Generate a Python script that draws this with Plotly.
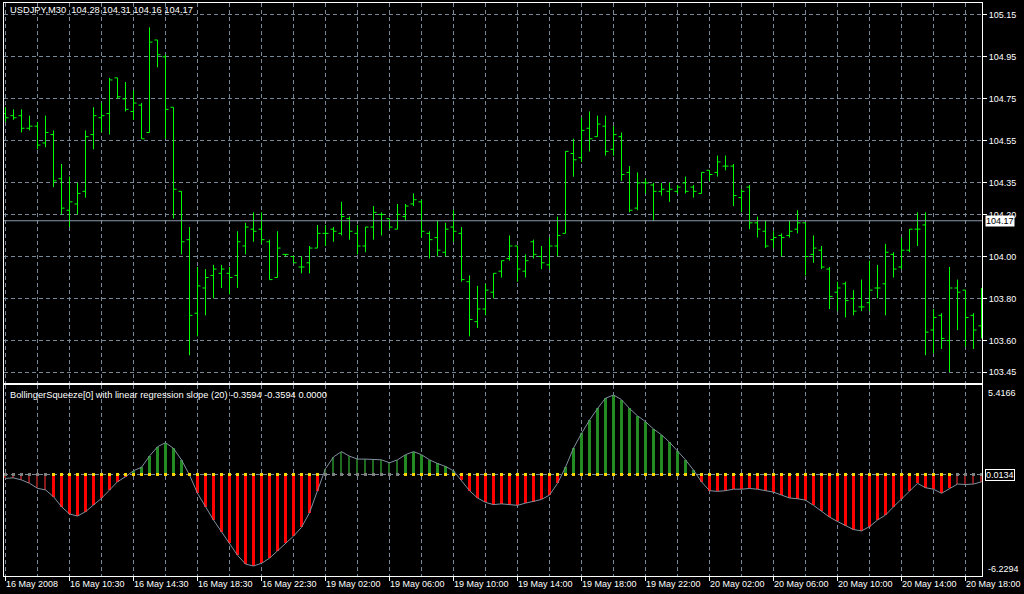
import plotly.graph_objects as go

# ---------------- data ----------------
opens = [104.68,104.67,104.67,104.61,104.62,104.54,104.58,104.37,104.22,104.25,
         104.31,104.58,104.66,104.68,104.85,104.75,104.69,104.72,104.59,105.03,
         104.95,104.71,104.31,104.08,103.73,103.85,103.91,103.92,103.92,103.91,
         104.05,104.13,104.13,104.07,103.90,104.01,104.00,103.95,103.97,104.04,
         104.11,104.13,104.11,104.18,104.11,104.05,104.14,104.20,104.18,104.13,
         104.19,104.25,104.26,104.11,104.09,104.02,104.14,104.11,103.88,103.69,
         103.75,103.83,103.93,103.99,104.05,103.93,104.07,104.00,103.96,104.05,
         104.11,104.49,104.47,104.61,104.57,104.62,104.51,104.57,104.40,104.23,
         104.35,104.34,104.31,104.31,104.31,104.35,104.33,104.30,104.41,104.40,
         104.43,104.43,104.28,104.33,104.16,104.12,104.08,104.10,104.10,104.13,
         104.16,104.01,104.03,103.94,103.83,103.87,103.80,103.76,103.78,103.85,
         103.87,104.01,103.95,104.03,104.13,104.15,103.65,103.72,103.60,103.85,
         103.84,103.72,103.67]
highs = [104.71,104.70,104.70,104.67,104.64,104.67,104.60,104.44,104.38,104.35,
         104.60,104.71,104.73,104.85,104.85,104.83,104.79,104.73,105.09,105.03,
         104.96,104.71,104.31,104.14,103.95,103.94,103.96,103.96,103.95,104.12,
         104.16,104.21,104.21,104.08,104.12,104.01,104.00,104.00,104.05,104.15,
         104.15,104.14,104.26,104.19,104.15,104.14,104.24,104.21,104.18,104.25,
         104.25,104.30,104.27,104.12,104.17,104.16,104.22,104.14,103.91,103.86,
         103.87,103.92,103.98,104.10,104.05,104.01,104.08,104.05,104.09,104.19,
         104.50,104.56,104.66,104.69,104.67,104.67,104.62,104.59,104.43,104.40,
         104.37,104.35,104.35,104.35,104.34,104.38,104.34,104.40,104.41,104.48,
         104.48,104.44,104.32,104.34,104.19,104.17,104.12,104.11,104.17,104.22,
         104.16,104.10,104.05,103.95,103.88,103.88,103.84,103.89,103.98,103.96,
         104.06,104.02,104.09,104.13,104.21,104.21,103.75,103.73,103.95,103.89,
         103.84,103.73,103.85]
lows = [104.64,104.65,104.59,104.60,104.51,104.52,104.33,104.20,104.14,104.20,
        104.28,104.51,104.59,104.58,104.75,104.69,104.65,104.56,104.59,104.90,
        104.56,104.18,104.01,103.53,103.62,103.72,103.80,103.85,103.82,103.85,
        104.01,104.07,104.06,103.89,103.90,104.00,103.97,103.92,103.92,104.04,
        104.05,104.07,104.10,104.08,104.01,104.02,104.08,104.10,104.13,104.13,
        104.17,104.24,104.09,103.99,104.00,104.00,104.07,103.88,103.62,103.66,
        103.72,103.80,103.90,103.98,103.88,103.90,103.99,103.94,103.94,104.00,
        104.11,104.38,104.45,104.50,104.57,104.48,104.48,104.36,104.21,104.22,
        104.30,104.17,104.29,104.26,104.30,104.30,104.28,104.30,104.36,104.38,
        104.41,104.24,104.21,104.13,104.09,104.04,104.04,104.00,104.09,104.11,
        103.91,103.97,103.94,103.75,103.74,103.71,103.72,103.74,103.74,103.80,
        103.72,103.90,103.94,104.02,104.05,103.53,103.54,103.56,103.45,103.65,
        103.57,103.56,103.61]
closes = [104.66,104.66,104.61,104.62,104.53,104.59,104.36,104.23,104.26,104.30,
          104.57,104.67,104.67,104.84,104.76,104.70,104.73,104.56,105.02,104.96,
          104.70,104.32,104.07,103.72,103.86,103.90,103.94,103.94,103.90,104.07,
          104.14,104.12,104.08,103.89,104.04,104.01,103.97,103.95,104.04,104.11,
          104.11,104.12,104.19,104.12,104.05,104.14,104.21,104.20,104.14,104.20,
          104.24,104.27,104.12,104.08,104.03,104.13,104.12,103.89,103.70,103.75,
          103.84,103.92,103.98,104.05,103.94,103.98,104.01,103.97,104.05,104.10,
          104.50,104.46,104.60,104.56,104.63,104.50,104.58,104.39,104.22,104.35,
          104.35,104.31,104.32,104.32,104.33,104.31,104.31,104.40,104.39,104.45,
          104.43,104.29,104.31,104.16,104.13,104.05,104.09,104.09,104.12,104.16,
          104.00,104.04,103.95,103.81,103.85,103.79,103.74,103.76,103.84,103.85,
          104.02,103.94,104.03,104.13,104.13,103.64,103.71,103.61,103.85,103.83,
          103.71,103.65,103.68]

slope = [-0.26,-0.23,-0.37,-0.60,-0.94,-1.05,-1.51,-2.19,-2.69,-2.83,
         -2.53,-2.08,-1.62,-1.06,-0.49,-0.15,0.26,0.49,1.26,1.89,
         2.17,1.78,0.99,-0.03,-1.28,-2.19,-3.10,-3.90,-4.70,-5.50,
         -6.10,-6.23,-6.05,-5.70,-5.20,-4.70,-4.20,-3.60,-2.60,-1.10,
         0.40,1.20,1.56,1.25,1.05,1.05,1.05,1.00,0.80,1.00,
         1.35,1.56,1.35,1.00,0.75,0.55,0.25,-0.40,-1.10,-1.60,
         -1.90,-2.05,-2.00,-2.05,-2.10,-1.95,-1.85,-1.70,-1.40,-0.60,
         0.50,1.80,2.80,3.70,4.50,5.20,5.4166,5.10,4.50,4.00,
         3.60,3.10,2.70,2.20,1.60,1.00,0.30,-0.50,-1.10,-1.15,
         -1.10,-1.00,-1.00,-0.95,-1.00,-1.10,-1.20,-1.40,-1.60,-1.65,
         -1.75,-2.10,-2.50,-2.90,-3.20,-3.50,-3.75,-3.84,-3.55,-3.10,
         -2.76,-2.20,-1.66,-1.12,-0.60,-0.90,-1.00,-1.28,-0.94,-0.65,
         -0.68,-0.65,-0.50]
# 1 = squeeze on (grey dot, thin bar), 0 = off (yellow dot, thick bar)
squeeze = [1]*6 + [0]*34 + [1]*10 + [0]*69 + [1]*4

time_labels = ["16 May 2008", "16 May 10:30", "16 May 14:30", "16 May 18:30",
               "16 May 22:30", "19 May 02:00", "19 May 06:00", "19 May 10:00",
               "19 May 14:00", "19 May 18:00", "19 May 22:00", "20 May 02:00",
               "20 May 06:00", "20 May 10:00", "20 May 14:00", "20 May 18:00"]
price_ticks = [105.15, 104.95, 104.75, 104.55, 104.35, 104.20, 104.00, 103.80, 103.60, 103.45]
price_tick_text = ["105.15", "104.95", "104.75", "104.55", "104.35", "104.20",
                   "104.00", "103.80", "103.60", "103.45"]
current_price = 104.17
main_title = "USDJPY,M30\u00a0\u00a0104.28 104.31 104.16 104.17"
sub_title = "BollingerSqueeze[0] with linear regression slope (20) -0.3594 -0.3594 0.0000"

# ---------------- figure ----------------
n = len(closes)
idx = list(range(n))
FONT = "Liberation Sans"
FS = 9
FT = 9.3
GRID = "#778899"
BAR_GREEN = "#00ff00"

fig = go.Figure()
fig.add_trace(go.Ohlc(x=idx, open=opens, high=highs, low=lows, close=closes,
                      increasing_line_color=BAR_GREEN, decreasing_line_color=BAR_GREEN,
                      line_width=1, tickwidth=0.375, xaxis="x", yaxis="y",
                      hoverinfo="skip", showlegend=False))

def pick(cond):
    xs = [i for i in idx if cond(i)]
    return xs, [slope[i] for i in xs]

specs = [
    (lambda i: squeeze[i] == 0 and slope[i] < 0, "#ff0000", 0.375),
    (lambda i: squeeze[i] == 0 and slope[i] >= 0, "#228b22", 0.375),
    (lambda i: squeeze[i] == 1 and slope[i] < 0, "#8b1a1a", 0.14),
    (lambda i: squeeze[i] == 1 and slope[i] >= 0, "#1f6b1f", 0.14),
]
for cond, col, w in specs:
    xs, ys = pick(cond)
    fig.add_trace(go.Bar(x=xs, y=ys, width=w, marker_color=col, marker_line_width=0,
                         xaxis="x2", yaxis="y2", showlegend=False, hoverinfo="skip"))

fig.add_trace(go.Scatter(x=idx, y=slope, mode="lines", line=dict(color="#8090a0", width=1),
                         xaxis="x2", yaxis="y2", showlegend=False, hoverinfo="skip"))
fig.add_trace(go.Scatter(x=idx, y=[0]*n, mode="markers",
                         marker=dict(symbol="square", size=3,
                                     color=["#808080" if s else "#ffd700" for s in squeeze],
                                     line_width=0),
                         xaxis="x2", yaxis="y2", showlegend=False, hoverinfo="skip"))

major = list(range(0, n, 8))
minor = [v for v in range(4, n, 8)]
X0 = -0.1875
xcommon = dict(range=[X0, X0 + 978 / 8], showgrid=True, gridcolor=GRID, griddash="4px,3px",
               gridwidth=1, tickvals=major, zeroline=False, showline=True, mirror=True,
               linecolor="white", linewidth=1,
               minor=dict(tickvals=minor, showgrid=True, gridcolor=GRID, griddash="4px,3px",
                          gridwidth=1, ticks=""))

fig.update_layout(
    width=1024, height=594,
    margin=dict(l=4, r=42, t=3, b=18),
    paper_bgcolor="black", plot_bgcolor="black",
    barmode="overlay", bargap=0,
    showlegend=False,
    font=dict(family=FONT, size=FS, color="white"),
    xaxis=dict(**xcommon, anchor="y", showticklabels=False, ticks="",
               rangeslider=dict(visible=False)),
    yaxis=dict(domain=[0.3368, 1], range=[103.398, 105.206], side="right",
               tickvals=price_ticks, ticktext=price_tick_text, ticks="outside", ticklen=4,
               tickcolor="white", tickfont=dict(family=FONT, size=FS, color="white"),
               showgrid=True, gridcolor=GRID, griddash="4px,3px", zeroline=False,
               showline=True, mirror=True, linecolor="white", linewidth=1),
    xaxis2=dict(**xcommon, anchor="y2", matches="x", showticklabels=False,
                ticks="outside", ticklen=4, tickcolor="white"),
    yaxis2=dict(domain=[0, 0.3333], range=[-6.914, 6.097], side="right",
                showticklabels=False, ticks="", showgrid=False, zeroline=False,
                showline=True, mirror=True, linecolor="white", linewidth=1),
)

shapes = [
    dict(type="line", xref="x domain", x0=0, x1=1, yref="y", y0=current_price, y1=current_price,
         line=dict(color="#8a9aab", width=1)),
    dict(type="line", xref="x2 domain", x0=0, x1=1, yref="y2", y0=0, y1=0,
         line=dict(color=GRID, width=1, dash="4px,3px"), layer="below"),
]
fig.update_layout(shapes=shapes)

ann = []
ann.append(dict(text=main_title, xref="paper", yref="paper", x=0.0045, y=0.988,
                xanchor="left", yanchor="middle", showarrow=False,
                font=dict(family=FONT, size=FT, color="white")))
ann.append(dict(text=sub_title, xref="paper", yref="paper", x=0.0045, y=0.3155,
                xanchor="left", yanchor="middle", showarrow=False,
                font=dict(family=FONT, size=FT, color="white")))
for k, lab in enumerate(time_labels):
    ann.append(dict(text=lab, xref="x2", yref="paper", x=major[k], y=-0.0135,
                    xanchor="left", yanchor="middle", showarrow=False, xshift=-2,
                    font=dict(family=FONT, size=FS, color="white")))
ann.append(dict(text=str(current_price), xref="paper", yref="y", x=1.0035, y=current_price,
                xanchor="left", yanchor="middle", showarrow=False, bgcolor="white",
                borderpad=0, font=dict(family=FONT, size=FS, color="black")))
for txt, ypix in [("5.4166", 393), ("-6.2294", 568.7)]:
    ann.append(dict(text=txt, xref="paper", yref="paper", x=1.004,
                    y=(576 - ypix) / 573, xanchor="left", yanchor="middle", showarrow=False,
                    font=dict(family=FONT, size=FS, color="white")))
ann.append(dict(text="0.0134", xref="paper", yref="paper", x=1.003, y=(576 - 474.5) / 573,
                xanchor="left", yanchor="middle", showarrow=False, bgcolor="black",
                bordercolor="white", borderwidth=1, borderpad=0,
                font=dict(family=FONT, size=FS, color="white")))
fig.update_layout(annotations=ann)

fig.write_html("out.html", config={"displayModeBar": False},
               post_script="document.body.style.margin='0px';"
                           "document.body.style.background='black';"
                           "document.body.style.overflow='hidden';")
